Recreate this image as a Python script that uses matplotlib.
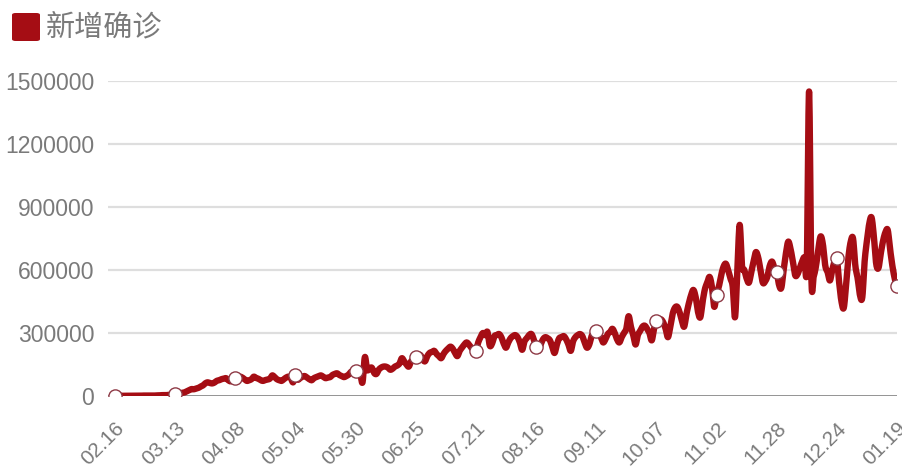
import numpy as np
import matplotlib
matplotlib.use("Agg")
import matplotlib.pyplot as plt
from matplotlib.patches import FancyBboxPatch
from matplotlib.transforms import ScaledTranslation

plt.rcParams['font.family'] = ['Liberation Sans', 'Noto Sans CJK SC', 'DejaVu Sans']

# Daily new confirmed cases (thousands), one row per week starting Sunday 2020-02-16
new_cases_k = [
    2, 2, 2, 1, 1, 1, 1,
    1, 1, 1, 1, 1, 2, 2,
    2, 2, 2, 2, 3, 3, 4,
    4, 4, 5, 6, 7, 9, 11,
    13, 15, 17, 22, 27, 33, 32,
    35, 38, 45, 50, 60, 65, 62,
    60, 64, 72, 75, 80, 82, 85,
    75, 70, 80, 85, 85, 92, 88,
    80, 72, 75, 80, 92, 86, 82,
    75, 72, 76, 78, 83, 98, 90,
    80, 75, 72, 80, 88, 92, 85,
    65, 100, 78, 85, 92, 95, 88,
    80, 75, 85, 90, 95, 98, 92,
    85, 88, 90, 100, 105, 108, 100,
    95, 90, 95, 102, 115, 118, 120,
    110, 105, 65, 185, 125, 130, 135,
    110, 105, 125, 135, 140, 140, 135,
    125, 130, 140, 145, 155, 180, 165,
    150, 140, 165, 175, 185, 190, 195,
    175, 165, 190, 205, 210, 215, 200,
    190, 180, 200, 215, 225, 235, 225,
    205, 190, 215, 230, 245, 255, 245,
    230, 215, 215, 255, 280, 300, 290,
    305, 240, 250, 285, 290, 295, 280,
    250, 230, 255, 275, 285, 290, 280,
    255, 220, 260, 275, 290, 295, 270,
    233, 215, 245, 270, 280, 275, 265,
    235, 205, 245, 275, 280, 285, 270,
    245, 215, 260, 280, 290, 295, 285,
    255, 230, 245, 285, 300, 310, 305,
    280, 255, 270, 295, 305, 320, 300,
    270, 255, 280, 300, 320, 380, 330,
    290, 245, 290, 310, 330, 335, 320,
    300, 265, 320, 357, 360, 365, 350,
    320, 280, 330, 390, 420, 425, 400,
    360, 330, 390, 440, 480, 505, 470,
    400, 375, 450, 510, 540, 567, 520,
    425, 480, 520, 575, 615, 630, 600,
    560, 520, 375, 600, 815, 620, 600,
    560, 540, 590, 640, 685, 660, 600,
    540, 545, 570, 620, 640, 610, 590,
    530, 515, 600, 680, 735, 700, 640,
    575, 580, 610, 640, 660, 615, 1450,
    560, 570, 620, 700, 760, 720, 620,
    590, 550, 600, 640, 655, 540, 450,
    420, 530, 660, 735, 750, 620, 560,
    480, 470, 640, 740, 820, 850, 760,
    630, 610, 680, 740, 780, 790, 700,
    620, 560, 524,
]
tick_labels = ["02.16", "03.13", "04.08", "05.04", "05.30", "06.25", "07.21",
               "08.16", "09.11", "10.07", "11.02", "11.28", "12.24", "01.19"]
tick_step = 26
y_ticks = [0, 300000, 600000, 900000, 1200000, 1500000]
legend_label = "新增确诊"

values = np.array(new_cases_k, dtype=float) * 1000
days = np.arange(len(values))

# Smooth path through the daily points (cubic Hermite, Catmull-Rom tangents)
def smooth_path(x, y, n=12, tension=0.5):
    m = np.zeros_like(y)
    m[1:-1] = (y[2:] - y[:-2]) * tension
    m[0] = (y[1] - y[0]) * tension
    m[-1] = (y[-1] - y[-2]) * tension
    t = np.linspace(0, 1, n, endpoint=False)
    h00 = 2 * t**3 - 3 * t**2 + 1
    h10 = t**3 - 2 * t**2 + t
    h01 = -2 * t**3 + 3 * t**2
    h11 = t**3 - t**2
    xs, ys = [], []
    for i in range(len(x) - 1):
        dx = x[i + 1] - x[i]
        xs.append(x[i] + t * dx)
        ys.append(h00 * y[i] + h10 * m[i] + h01 * y[i + 1] + h11 * m[i + 1])
    xs.append([x[-1]])
    ys.append([y[-1]])
    return np.concatenate(xs), np.concatenate(ys)

line_color = '#a50d14'
text_color = '#7a7a7a'

fig = plt.figure(figsize=(9.03, 4.74), dpi=100)
ax = fig.add_axes([108 / 903, 78 / 474, 789 / 903, 315 / 474])

sx, sy = smooth_path(days.astype(float), values)
ax.plot(sx, sy, color=line_color, lw=4.6, solid_capstyle='round',
        solid_joinstyle='round', zorder=3)

tick_pos = days[::tick_step]
ax.plot(tick_pos, values[tick_pos], linestyle='none', marker='o', ms=9.5,
        mfc='white', mec='#8e3a46', mew=1.0, zorder=4)

ax.set_xlim(-3, len(values) - 1)
ax.set_ylim(0, 1500000)
ax.set_yticks(y_ticks)
ax.set_yticklabels([str(v) for v in y_ticks])
ax.set_xticks(tick_pos)
ax.set_xticklabels(tick_labels, rotation=45, ha='right', va='top',
                   rotation_mode='anchor')
shift = ScaledTranslation(-5 / 100, -2 / 100, fig.dpi_scale_trans)
for lbl in ax.get_xticklabels():
    lbl.set_transform(lbl.get_transform() + shift)

for v in y_ticks[1:]:
    ax.axhline(v, color='#dedede', lw=1.6, zorder=1)
ax.axhline(0, color='#8a8a8a', lw=2.0, zorder=2)

for s in ax.spines.values():
    s.set_visible(False)
ax.tick_params(axis='y', length=0, pad=10, labelsize=16.5, labelcolor=text_color)
ax.tick_params(axis='x', length=0, pad=16, labelsize=15, labelcolor=text_color)

# Legend: colored square and label at top left
fig.patches.append(FancyBboxPatch((12 / 903, 1 - 41 / 474), 28 / 903, 28 / 474,
                                  boxstyle='round,pad=0,rounding_size=0.004',
                                  transform=fig.transFigure, facecolor=line_color,
                                  edgecolor='none'))
fig.text(46 / 903, 1 - 27 / 474, legend_label, fontsize=21, color=text_color,
         va='center', ha='left', family=['Noto Sans CJK SC', 'DejaVu Sans'])

fig.savefig('out.png', dpi=100, facecolor='white')
